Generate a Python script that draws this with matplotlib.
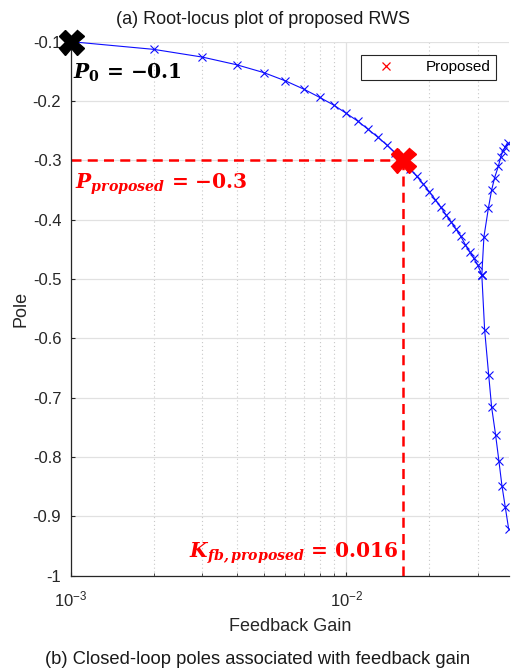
import matplotlib.pyplot as plt
import numpy as np
from matplotlib.ticker import LogLocator, NullFormatter, FixedLocator

plt.rcParams['font.family'] = ['Liberation Sans', 'DejaVu Sans']
plt.rcParams['mathtext.fontset'] = 'custom'
plt.rcParams['mathtext.rm'] = 'Liberation Sans'
plt.rcParams['mathtext.it'] = 'Liberation Sans:italic'
plt.rcParams['mathtext.bf'] = 'Liberation Sans:bold'
plt.rcParams['axes.unicode_minus'] = False

# branch before breakaway (gain, pole)
gain_main = np.arange(1, 32) * 0.001
pole_main = np.array([-0.100, -0.113, -0.126, -0.139, -0.152, -0.166, -0.180, -0.194,
                      -0.207, -0.221, -0.234, -0.248, -0.261, -0.274, -0.287, -0.300,
                      -0.314, -0.327, -0.340, -0.353, -0.366, -0.379, -0.392, -0.404,
                      -0.416, -0.428, -0.442, -0.454, -0.465, -0.477, -0.493])

# branch going up after breakaway
gain_up = np.array([0.0310, 0.03155, 0.03274, 0.03365, 0.03451, 0.03559, 0.03629,
                    0.03698, 0.03773, 0.03846])
pole_up = np.array([-0.493, -0.429, -0.381, -0.350, -0.329, -0.310, -0.295,
                    -0.284, -0.277, -0.270])

# branch going down after breakaway
gain_down = np.array([0.0310, 0.03174, 0.03282, 0.03365, 0.03479, 0.03577, 0.03667,
                      0.03773, 0.03879])
pole_down = np.array([-0.493, -0.586, -0.661, -0.716, -0.763, -0.807, -0.848,
                      -0.885, -0.921])

k0, p0 = 0.001, -0.1
k_prop, p_prop = 0.016, -0.3

fig = plt.figure(figsize=(5.15, 6.71), dpi=100)
ax = fig.add_axes([0.1379, 0.142, 0.8504, 0.7959])

blue = (0.05, 0.05, 1)
for g, p in [(gain_main, pole_main), (gain_up, pole_up), (gain_down, pole_down)]:
    ax.plot(g, p, color=blue, lw=0.8, marker='x', ms=6, mew=0.8)

# dashed guides to the proposed point
ax.plot([k0, k_prop], [p_prop, p_prop], color='red', lw=1.8, ls=(0, (4, 2.5)))
ax.plot([k_prop, k_prop], [-1, p_prop], color='red', lw=1.8, ls=(0, (4, 2.5)))

ax.plot(k0, p0, marker='X', color='black', ms=18, mec='black', clip_on=False, zorder=5)
ax.plot(k_prop, p_prop, marker='X', color='red', ms=18, mec='red', zorder=5)

# legend entry
ax.plot([], [], ls='none', marker='x', color='red', ms=6, mew=0.9, label='Proposed')
leg = ax.legend(loc='upper right', bbox_to_anchor=(0.97, 0.975), borderaxespad=0,
                fontsize=11, handlelength=2.6, handletextpad=1.3, borderpad=0.35,
                fancybox=False, framealpha=1, edgecolor='#262626')
leg.get_frame().set_linewidth(0.8)

ax.set_xscale('log')
ax.set_xlim(0.001, 0.0389)
ax.set_ylim(-1, -0.1)
ax.set_yticks(np.arange(-1, -0.05, 0.1))
ax.set_yticklabels(['-1', '-0.9', '-0.8', '-0.7', '-0.6', '-0.5', '-0.4', '-0.3', '-0.2', '-0.1'])
ax.xaxis.set_major_locator(FixedLocator([0.001, 0.01]))
ax.set_xticklabels(['$10^{-3}$', '$10^{-2}$'])
ax.xaxis.set_minor_locator(LogLocator(base=10, subs=np.arange(2, 10)))
ax.xaxis.set_minor_formatter(NullFormatter())

ax.grid(True, which='major', axis='both', color='#e1e1e1', lw=0.9)
ax.grid(True, which='minor', axis='x', color='#c8c8c8', lw=0.8, ls=(0, (1, 2.5)))
ax.set_axisbelow(True)

for s in ['top', 'right']:
    ax.spines[s].set_visible(False)
for s in ['left', 'bottom']:
    ax.spines[s].set_color('#262626')
    ax.spines[s].set_linewidth(0.9)
ax.tick_params(which='both', direction='in', colors='#262626', labelsize=12,
               labelcolor='#262626')
ax.tick_params(which='major', length=3)
ax.tick_params(which='minor', length=2)
ax.tick_params(axis='x', pad=10)
ax.tick_params(axis='y', pad=7)

ax.set_ylabel('Pole', fontsize=13, color='#262626', labelpad=2)
ax.set_xlabel('Feedback Gain', fontsize=13, color='#262626', labelpad=6)

ax.text(0.00102, -0.153, r'$\mathbfit{P}_{\mathbf{0}}\,\mathbf{=}\,\mathbf{-0.1}$', fontsize=14.5,
        color='black', math_fontfamily='dejavuserif', va='center', ha='left')
ax.text(0.00103, -0.34, r'$\mathbfit{P}_{\mathbfit{proposed}}\,\mathbf{=}\,\mathbf{-0.3}$', fontsize=14.5,
        color='red', math_fontfamily='dejavuserif', va='center', ha='left')
ax.text(0.0155, -0.962, r'$\mathbfit{K}_{\mathbfit{fb,proposed}}\,\mathbf{=}\,\mathbf{0.016}$', fontsize=14.5,
        color='red', math_fontfamily='dejavuserif', va='center', ha='right')

fig.text(0.51, 0.971, '(a) Root-locus plot of proposed RWS', fontsize=13,
         ha='center', va='center', color='#1a1a1a')
fig.text(0.5, 0.017, '(b) Closed-loop poles associated with feedback gain', fontsize=13.2,
         ha='center', va='center', color='#1a1a1a')

fig.savefig('out.png', dpi=100)
